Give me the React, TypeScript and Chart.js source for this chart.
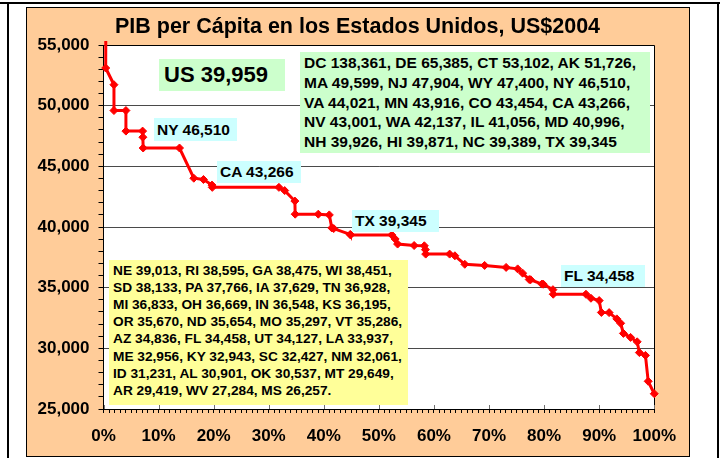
import React, { useEffect, useRef } from "react";
import { Chart, registerables } from "chart.js";

Chart.register(...registerables);

// ---------- data ----------
const TITLE = "PIB per Cápita en los Estados Unidos, US$2004";
const US_LABEL = "US 39,959";

// each marker: state, cumulative population share (%), GDP per capita (US$2004)
const pointStates = [
  "DC", "DE", "CT", "AK", "MA", "MA", "NJ", "NJ", "WY", "NY", "NY", "VA", "MN", "CO", "CA", "CA",
  "NV", "WA", "IL", "IL", "MD", "NH", "HI", "NC", "TX", "TX", "NE", "RI", "GA", "WI", "SD", "PA",
  "PA", "IA", "TN", "MI", "OH", "IN", "KS", "OR", "ND", "MO", "VT", "AZ", "FL", "FL", "UT", "LA",
  "ME", "KY", "SC", "NM", "ID", "AL", "OK", "MT", "AR", "WV", "MS",
];
const pointShare = [
  0.19, 0.47, 0.4, 1.9, 1.9, 4.07, 4.07, 7.1, 7.15, 7.2, 13.8, 16.4, 18.15, 19.7, 19.75, 31.85,
  32.9, 34.75, 34.8, 39.0, 41.0, 41.45, 41.8, 44.8, 44.85, 52.35, 52.95, 53.4, 56.4, 58.25, 58.45, 58.5,
  62.85, 63.8, 65.6, 69.2, 73.1, 75.2, 76.1, 77.3, 77.55, 79.6, 79.85, 81.6, 81.65, 87.6, 88.5, 90.0,
  90.4, 91.8, 93.2, 93.9, 94.4, 95.7, 96.9, 97.3, 98.4, 98.9, 100,
];
const pointGdp = [
  138361, 65385, 53102, 51726, 49599, 49599, 47904, 47904, 47400, 46510, 46510, 44021, 43916, 43454, 43266, 43266,
  43001, 42137, 41056, 41056, 40996, 39926, 39871, 39389, 39345, 39345, 39013, 38595, 38475, 38451, 38133, 37766,
  37766, 37629, 36928, 36833, 36669, 36548, 36195, 35670, 35654, 35297, 35286, 34836, 34458, 34458, 34127, 33937,
  32956, 32943, 32427, 32061, 31231, 30901, 30537, 29649, 29419, 27284, 26257,
];

const Y_MIN = 25000;
const Y_MAX = 55000;
const Y_MAJOR = 5000;
const Y_MINOR = 1000;
const X_MIN = 0;
const X_MAX = 100;
const X_MAJOR = 10;
const X_MINOR = 1;

const greenLines = [
  "DC 138,361, DE 65,385, CT 53,102, AK 51,726,",
  "MA 49,599, NJ 47,904, WY 47,400, NY 46,510,",
  "VA 44,021, MN 43,916, CO 43,454, CA 43,266,",
  "NV 43,001, WA 42,137, IL 41,056, MD 40,996,",
  "NH 39,926, HI 39,871, NC 39,389, TX 39,345",
];
const yellowLines = [
  "NE 39,013, RI 38,595, GA 38,475, WI 38,451,",
  "SD 38,133, PA 37,766, IA 37,629, TN 36,928,",
  "MI 36,833, OH 36,669, IN 36,548, KS 36,195,",
  "OR 35,670, ND 35,654, MO 35,297, VT 35,286,",
  "AZ 34,836, FL 34,458, UT 34,127, LA 33,937,",
  "ME 32,956, KY 32,943, SC 32,427, NM 32,061,",
  "ID 31,231, AL 30,901, OK 30,537, MT 29,649,",
  "AR 29,419, WV 27,284, MS 26,257.",
];
const callouts = ["NY 46,510", "CA 43,266", "TX 39,345", "FL 34,458"];

// ---------- layout / style ----------
const FONT = "'Liberation Sans', Arial, Helvetica, sans-serif";
const calloutPos = [
  { left: 154, top: 118, width: 83, height: 23 },
  { left: 217, top: 161, width: 84, height: 22 },
  { left: 352, top: 210, width: 87, height: 22 },
  { left: 561, top: 265, width: 84, height: 22 },
];

const plotDeco = {
  id: "plotDeco",
  beforeDraw(chart: any) {
    const { ctx, chartArea: a } = chart;
    ctx.save();
    ctx.fillStyle = "#FFFFFF";
    ctx.fillRect(a.left, a.top, a.right - a.left, a.bottom - a.top);
    ctx.restore();
  },
  beforeDatasetsDraw(chart: any) {
    const { ctx, chartArea: a } = chart;
    const xs = chart.scales.x;
    ctx.save();
    ctx.strokeStyle = "#000000";
    ctx.lineWidth = 1;
    ctx.beginPath();
    ctx.moveTo(a.left, Math.round(a.top) + 0.5);
    ctx.lineTo(Math.round(a.right) + 0.5, Math.round(a.top) + 0.5);
    ctx.lineTo(Math.round(a.right) + 0.5, a.bottom);
    ctx.stroke();
    ctx.strokeStyle = "#707070";
    for (let v = X_MIN; v <= X_MAX; v += X_MAJOR) {
      const px = Math.round(xs.getPixelForValue(v)) + 0.5;
      ctx.beginPath();
      ctx.moveTo(px, a.bottom - 4);
      ctx.lineTo(px, a.bottom);
      ctx.stroke();
    }
    ctx.restore();
  },
};

export default function App() {
  const ref = useRef<HTMLCanvasElement>(null);

  useEffect(() => {
    if (!ref.current) return;
    const tickFont = { family: FONT, size: 17, weight: "bold" as const };
    const chart = new Chart(ref.current, {
      type: "line",
      data: {
        datasets: [
          {
            label: "PIB per cápita",
            data: pointShare.map((x, i) => ({ x, y: pointGdp[i] })),
            borderColor: "#FF0000",
            backgroundColor: "#FF0000",
            borderWidth: 3,
            pointStyle: "rectRot",
            pointRadius: 4,
            pointBorderWidth: 1,
            pointBorderColor: "#FF0000",
            pointBackgroundColor: "#FF0000",
            tension: 0,
            clip: { left: 6, top: 4, right: 8, bottom: 6 },
          },
        ],
      },
      options: {
        animation: false,
        responsive: false,
        events: [],
        layout: { padding: { left: 0, right: 32, top: 37, bottom: 0 } },
        plugins: { legend: { display: false }, tooltip: { enabled: false }, title: { display: false } },
        scales: {
          x: {
            type: "linear",
            min: X_MIN,
            max: X_MAX,
            ticks: {
              stepSize: X_MINOR,
              autoSkip: false,
              maxRotation: 0,
              minRotation: 0,
              font: tickFont,
              color: "#000000",
              padding: 13,
              callback: (v: any) => (Number(v) % X_MAJOR === 0 ? `${v}%` : ""),
            },
            grid: { drawOnChartArea: false, drawTicks: true, tickLength: 4, tickColor: "#000000" },
            border: { display: true, color: "#000000", width: 1 },
            afterFit: (s: any) => {
              s.height = 47;
            },
          },
          y: {
            type: "linear",
            min: Y_MIN,
            max: Y_MAX,
            ticks: {
              stepSize: Y_MINOR,
              autoSkip: false,
              font: tickFont,
              color: "#000000",
              padding: 9,
              callback: (v: any) => (Number(v) % Y_MAJOR === 0 ? Number(v).toLocaleString("en-US") : ""),
            },
            grid: {
              color: (c: any) => (c.tick && c.tick.value % Y_MAJOR === 0 ? "#4a4a4a" : "rgba(0,0,0,0)"),
              tickColor: "#000000",
              tickLength: 5,
              drawTicks: true,
            },
            border: { display: true, color: "#000000", width: 1 },
            afterFit: (s: any) => {
              s.width = 76.5;
            },
          },
        },
      },
      plugins: [plotDeco],
    });
    return () => chart.destroy();
  }, []);

  const boxText: React.CSSProperties = {
    position: "absolute",
    fontFamily: FONT,
    fontWeight: "bold",
    color: "#000",
    whiteSpace: "nowrap",
    boxSizing: "border-box",
  };

  return (
    <div
      style={{
        position: "absolute",
        left: 0,
        top: 0,
        width: 724,
        height: 458,
        background: "#FFFFFF",
        overflow: "hidden",
      }}
    >
      <div style={{ position: "absolute", left: 0, top: 2, width: 720, height: 2, background: "#000" }} />
      <div style={{ position: "absolute", left: 7, top: 2, width: 2, height: 456, background: "#000" }} />
      <div style={{ position: "absolute", left: 717, top: 2, width: 2, height: 456, background: "#000" }} />
      <div
        style={{
          position: "absolute",
          left: 26,
          top: 7,
          width: 664,
          height: 450,
          background: "#FFCC99",
          border: "1px solid #000",
          boxSizing: "border-box",
        }}
      />
      <canvas
        ref={ref}
        width={662}
        height={448}
        style={{ position: "absolute", left: 27, top: 8, width: 662, height: 448 }}
      />
      <div
        style={{
          ...boxText,
          left: 357.5,
          top: 14,
          transform: "translateX(-50%)",
          fontSize: 21.5,
          lineHeight: "24px",
        }}
      >
        {TITLE}
      </div>
      <div
        style={{
          ...boxText,
          left: 159,
          top: 59,
          width: 126,
          height: 32,
          background: "#CCFFCC",
          fontSize: 22,
          lineHeight: "32px",
          paddingLeft: 5,
        }}
      >
        {US_LABEL}
      </div>
      <div
        style={{
          ...boxText,
          left: 300,
          top: 52,
          width: 350,
          height: 101,
          background: "#CCFFCC",
          fontSize: 15.5,
          lineHeight: "19.8px",
          paddingLeft: 4,
          paddingTop: 1,
        }}
      >
        {greenLines.map((l, i) => (
          <div key={i}>{l}</div>
        ))}
      </div>
      <div
        style={{
          ...boxText,
          left: 109,
          top: 260,
          width: 299,
          height: 145,
          background: "#FFFF99",
          fontSize: 13.7,
          lineHeight: "17.2px",
          paddingLeft: 4,
          paddingTop: 1.5,
        }}
      >
        {yellowLines.map((l, i) => (
          <div key={i}>{l}</div>
        ))}
      </div>
      {callouts.map((t, i) => (
        <div
          key={t}
          style={{
            ...boxText,
            ...calloutPos[i],
            background: "#CCFFFF",
            fontSize: 15.5,
            lineHeight: `${calloutPos[i].height}px`,
            paddingLeft: 3,
          }}
        >
          {t}
        </div>
      ))}
    </div>
  );
}
